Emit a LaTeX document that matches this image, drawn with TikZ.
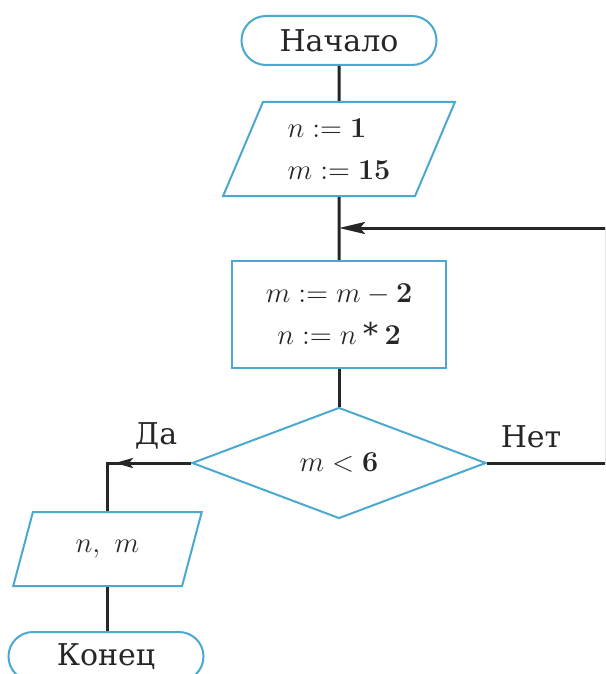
\documentclass[tikz,border=0pt]{standalone}
\usepackage[no-math]{fontspec}
\setmainfont{DejaVu Serif}
\usetikzlibrary{shapes.geometric,shapes.misc,arrows.meta,calc}
\definecolor{shapeblue}{RGB}{75,168,208}
\begin{document}
\begin{tikzpicture}[x=0.5pt,y=-0.5pt,
  shapebase/.style={draw=shapeblue,line width=1pt,fill=white,font=\fontsize{15}{19}\selectfont,text=black!85},
  termbox/.style={shapebase,rounded rectangle,minimum width=97.5pt,minimum height=24.5pt,inner sep=0pt},
  iobox/.style={shapebase,trapezium,trapezium stretches=true,inner sep=0pt},
  procbox/.style={shapebase,rectangle,minimum width=107pt,minimum height=53.5pt,inner sep=0pt,align=center},
  decbox/.style={shapebase,diamond,minimum width=147pt,minimum height=55.5pt,inner sep=0pt},
  flow/.style={line width=1.5pt,draw=black!85},
  lbl/.style={font=\fontsize{15}{19}\selectfont,text=black!85,inner sep=0pt}]
\useasboundingbox (0,0) rectangle (605,674);
\clip (0,0) rectangle (605,674);

\node[termbox] (start) at (339,40.5) {Начало};
\node[iobox,trapezium left angle=66,trapezium right angle=114,minimum width=116.5pt,minimum height=47pt,align=left] (init) at (339,149) {$n := \mathbf{1}$\\[2pt]$m := \mathbf{15}$};
\node[procbox] (proc) at (339,314.5) {$m := m - \mathbf{2}$\\[2pt]$n := n \mathbin{\mbox{*}} \mathbf{2}$};
\node[decbox] (dec) at (339,463) {$m < \mathbf{6}$};
\node[iobox,trapezium left angle=65,trapezium right angle=115,minimum width=94.5pt,minimum height=37pt] (out) at (107.5,549) {$n,\ m$};
\node[termbox] (stop) at (106,656.5) {Конец};

\coordinate (rbot) at (606,463);
\coordinate (rtop) at (606,228);
\coordinate (loopin) at (339,228);
\coordinate (dacorner) at (107,463);
\coordinate (datip) at (115,463);

\draw[flow] (start.south) -- (init.north);
\draw[flow] (init.south) -- (proc.north);
\draw[flow] (proc.south) -- (dec.north);
\draw[flow] (dec.east) -- (rbot) -- (rtop);
\draw[flow,-{Stealth[length=13pt,width=6pt,inset=2.5pt]}] (rtop) -- (loopin);
\draw[flow] (dec.west) -- (dacorner) -- (dacorner |- out.north);
\draw[flow,-{Stealth[length=9pt,width=5pt,inset=2pt]}] (dec.west) -- (datip);
\draw[flow] (dacorner |- out.south) -- (dacorner |- stop.north);

\node[lbl] (da) at (156,436) {Да};
\node[lbl] (net) at (531,437) {Нет};
\end{tikzpicture}
\end{document}
